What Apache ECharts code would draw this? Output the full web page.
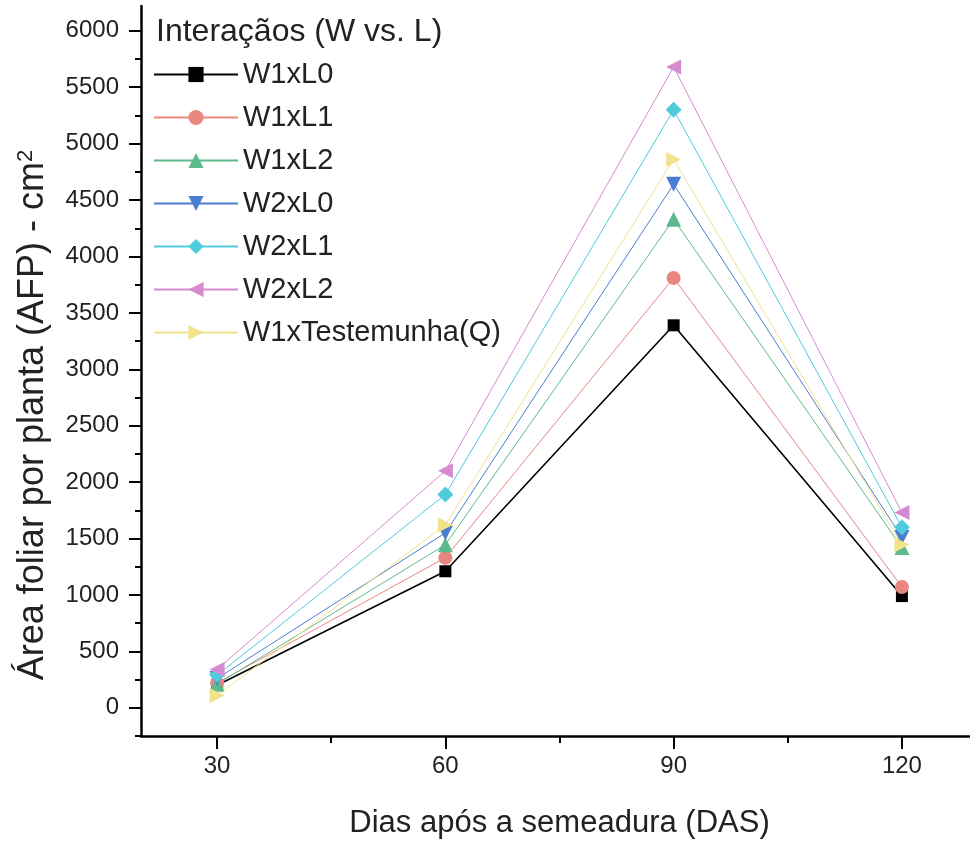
<!DOCTYPE html>
<html>
<head>
<meta charset="utf-8">
<script src="https://cdn.jsdelivr.net/npm/echarts@6/dist/echarts.min.js"></script>
<style>
  html, body { margin: 0; padding: 0; background: #fff; }
  #main { width: 970px; height: 854px; }
</style>
</head>
<body>
<div id="main"></div>
<script>
// dados
const days = [30, 60, 90, 120];
const w1l0 = [200, 1210, 3390, 990];
const w1l1 = [220, 1330, 3810, 1070];
const w1l2 = [210, 1445, 4330, 1420];
const w2l0 = [260, 1550, 4640, 1510];
const w2l1 = [290, 1890, 5300, 1600];
const w2l2 = [340, 2100, 5680, 1730];
const w1test = [110, 1620, 4860, 1445];

const names = ['W1xL0', 'W1xL1', 'W1xL2', 'W2xL0', 'W2xL1', 'W2xL2', 'W1xTestemunha(Q)'];
const yTicks = [0, 500, 1000, 1500, 2000, 2500, 3000, 3500, 4000, 4500, 5000, 5500, 6000];
const yMinor = [-250, 250, 750, 1250, 1750, 2250, 2750, 3250, 3750, 4250, 4750, 5250, 5750];
const xTicks = [30, 60, 90, 120];
const xMinor = [45, 75, 105];

window.onload = function () {
  let chart = echarts.init(document.getElementById('main'));
  const font = '"Liberation Sans", Arial, sans-serif';
  const txt = '#222';

  function pts(vals) {
    return days.map(function (d, i) { return [d, vals[i]]; });
  }

  // estilo de cada série: símbolo, rotação, cor
  const styles = [
    { vals: w1l0, symbol: 'rect', rot: 0, color: '#000000', size: 12, lw: 1.6 },
    { vals: w1l1, symbol: 'circle', rot: 0, color: '#E8877F', size: 14, lw: 1 },
    { vals: w1l2, symbol: 'triangle', rot: 0, color: '#5CBA8C', size: 15, lw: 1 },
    { vals: w2l0, symbol: 'triangle', rot: 180, color: '#4A7ED0', size: 15, lw: 1 },
    { vals: w2l1, symbol: 'diamond', rot: 0, color: '#4FCBDC', size: 16, lw: 1 },
    { vals: w2l2, symbol: 'triangle', rot: 90, color: '#D78AD1', size: 15, lw: 1 },
    { vals: w1test, symbol: 'triangle', rot: -90, color: '#F3E28C', size: 15, lw: 1 }
  ];

  let series = styles.map(function (s, i) {
    return {
      name: names[i],
      type: 'line',
      data: pts(s.vals),
      symbol: s.symbol,
      symbolRotate: s.rot,
      symbolSize: s.size,
      color: s.color,
      itemStyle: { color: s.color },
      lineStyle: { color: s.color, width: s.lw },
      emphasis: { disabled: true },
      animation: false
    };
  });

  let option = {
    backgroundColor: '#fff',
    animation: false,
    title: {
      text: 'Interaçãos (W vs. L)',
      left: 156,
      top: 16,
      padding: 0,
      textStyle: { fontFamily: font, fontSize: 32, fontWeight: 'normal', color: txt }
    },
    legend: {
      orient: 'vertical',
      left: 153,
      top: 60,
      padding: 0,
      itemWidth: 84,
      itemHeight: 19,
      itemGap: 14,
      data: names,
      textStyle: { fontFamily: font, fontSize: 29, color: txt }
    },
    grid: {
      left: 141,
      right: -8,
      top: 6,
      bottom: 118,
      outerBoundsMode: 'none'
    },
    xAxis: [
      {
        type: 'value',
        min: 20,
        max: 130,
        name: 'Dias após a semeadura (DAS)',
        nameLocation: 'middle',
        nameGap: 72,
        nameTextStyle: { fontFamily: font, fontSize: 31, color: txt },
        splitLine: { show: false },
        axisLine: { show: true, onZero: false, lineStyle: { color: '#000', width: 2.5 } },
        axisTick: { show: true, customValues: xTicks, length: 13, lineStyle: { color: '#000', width: 2 } },
        axisLabel: {
          customValues: xTicks, margin: 18, fontFamily: font, fontSize: 24, color: txt,
          formatter: function (v) { return String(v); }
        }
      },
      {
        type: 'value',
        min: 20,
        max: 130,
        position: 'bottom',
        splitLine: { show: false },
        axisLine: { show: false, onZero: false },
        axisTick: { show: true, customValues: xMinor, length: 7, lineStyle: { color: '#000', width: 2 } },
        axisLabel: { show: false }
      }
    ],
    yAxis: [
      {
        type: 'value',
        min: -250,
        max: 6220,
        name: 'Área foliar por planta (AFP) - cm{sup|2}',
        nameLocation: 'middle',
        nameGap: 90,
        nameTextStyle: {
          fontFamily: font, fontSize: 36, color: txt,
          padding: [0, 88, 0, 0],
          rich: {
            sup: { fontFamily: font, fontSize: 22, color: txt, verticalAlign: 'top', lineHeight: 36 }
          }
        },
        splitLine: { show: false },
        axisLine: { show: true, onZero: false, lineStyle: { color: '#000', width: 2.5 } },
        axisTick: { show: true, customValues: yTicks, length: 12, lineStyle: { color: '#000', width: 2 } },
        axisLabel: {
          customValues: yTicks, margin: 22, fontFamily: font, fontSize: 24, color: txt,
          formatter: function (v) { return String(v); }
        }
      },
      {
        type: 'value',
        min: -250,
        max: 6220,
        position: 'left',
        splitLine: { show: false },
        axisLine: { show: false, onZero: false },
        axisTick: { show: true, customValues: yMinor, length: 6, lineStyle: { color: '#000', width: 2 } },
        axisLabel: { show: false }
      }
    ],
    series: series
  };

  chart.setOption(option);
};
</script>
</body>
</html>
